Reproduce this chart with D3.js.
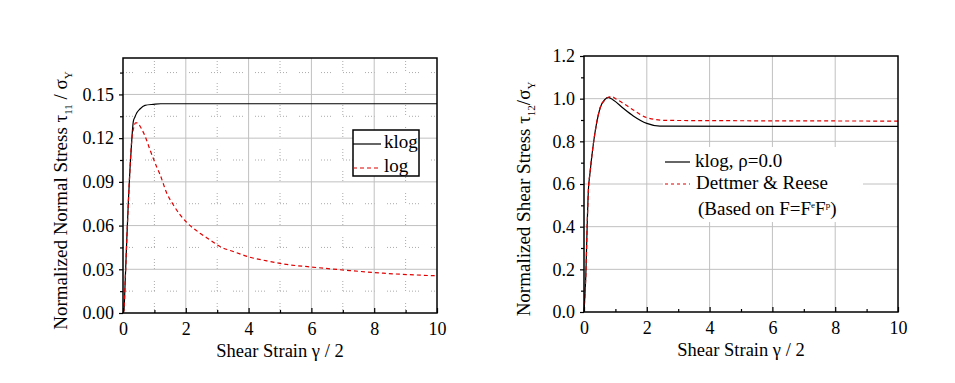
<!DOCTYPE html>
<html><head><meta charset="utf-8">
<script src="https://cdn.jsdelivr.net/npm/d3@7"></script>
<style>
body{margin:0;background:#fff;}
svg, svg text{font-family:"Liberation Serif","Times New Roman","DejaVu Serif",serif !important;}
</style></head>
<body><svg id="c" width="955" height="383"></svg>
<script>
// ---- data ----
const xTicks = [0, 2, 4, 6, 8, 10];
const xMinor = [1, 3, 5, 7, 9];
const leftYTicks = [0, 0.03, 0.06, 0.09, 0.12, 0.15];
const leftYMinor = [0.015, 0.045, 0.075, 0.105, 0.135, 0.165];
const rightYTicks = [0, 0.2, 0.4, 0.6, 0.8, 1.0, 1.2];
const rightYMinor = [0.1, 0.3, 0.5, 0.7, 0.9, 1.1];

const klogNx = [0, 0.03, 0.07, 0.12, 0.17, 0.22, 0.28, 0.33, 0.38, 0.44, 0.54, 0.70, 0.97, 1.2, 10];
const klogNy = [0, 0.002, 0.022, 0.05, 0.076, 0.098, 0.119, 0.1317, 0.1345, 0.1374, 0.140, 0.1425, 0.1432, 0.1436, 0.1436];
const logNx = [0, 0.03, 0.07, 0.12, 0.17, 0.22, 0.28, 0.34, 0.40, 0.46, 0.52, 0.60, 0.70, 0.86, 1.07, 1.18, 1.39, 1.6, 1.82, 2.03, 2.45, 2.77, 3.09, 3.51, 4.04, 4.58, 5.1, 6.17, 7.23, 8.29, 10];
const logNy = [0, 0.002, 0.022, 0.05, 0.076, 0.098, 0.119, 0.127, 0.1305, 0.1305, 0.129, 0.126, 0.1215, 0.112, 0.1004, 0.095, 0.0824, 0.0743, 0.0674, 0.0622, 0.0548, 0.0502, 0.0456, 0.0422, 0.0383, 0.0358, 0.0337, 0.0312, 0.0291, 0.0273, 0.0255];

const klogSx = [0, 0.03, 0.06, 0.1, 0.14, 0.19, 0.3, 0.4, 0.51, 0.67, 0.77, 0.93, 1.25, 1.57, 2.0, 2.42, 10];
const klogSy = [0, 0.08, 0.18, 0.40, 0.572, 0.65, 0.79, 0.884, 0.955, 0.997, 1.006, 0.994, 0.955, 0.919, 0.884, 0.871, 0.87];
const dettSx = [0, 0.03, 0.06, 0.1, 0.14, 0.19, 0.3, 0.4, 0.51, 0.67, 0.8, 0.88, 1.0, 1.25, 1.57, 2.0, 2.63, 10];
const dettSy = [0, 0.08, 0.18, 0.40, 0.572, 0.65, 0.79, 0.884, 0.955, 0.995, 1.008, 1.01, 1.0, 0.978, 0.947, 0.911, 0.898, 0.895];

const svg = d3.select("#c");
const FONT = '"Liberation Serif","Times New Roman",serif';
const FS = 18;

function panel(o) {
  const x = d3.scaleLinear().domain([0, 10]).range([o.x0, o.x1]);
  const y = d3.scaleLinear().domain([0, o.ymax]).range([o.y0, o.y1]);
  const g = svg.append("g");
  if (o.minorGrid) {
    g.selectAll(".mgx").data(xMinor).enter().append("line")
      .attr("x1", d => x(d)).attr("x2", d => x(d)).attr("y1", o.y0).attr("y2", o.y1)
      .attr("stroke", "#aaa").attr("stroke-dasharray", "1,2,1,2,1,2,1,12");
    g.selectAll(".mgy").data(o.yMinor).enter().append("line")
      .attr("y1", d => y(d)).attr("y2", d => y(d)).attr("x1", o.x0).attr("x2", o.x1)
      .attr("stroke", "#aaa").attr("stroke-dasharray", "1,2,1,2,1,2,1,12");
  }
  g.selectAll(".gx").data(xTicks.slice(1, -1)).enter().append("line")
    .attr("x1", d => x(d)).attr("x2", d => x(d)).attr("y1", o.y0).attr("y2", o.y1)
    .attr("stroke", "#c0c0c0");
  g.selectAll(".gy").data(o.yTicks.filter(d => d > 0 && d < o.ymax)).enter().append("line")
    .attr("y1", d => y(d)).attr("y2", d => y(d)).attr("x1", o.x0).attr("x2", o.x1)
    .attr("stroke", "#c0c0c0");
  if (o.legendBg) {
    g.append("rect").attr("x", o.legendBg[0]).attr("y", o.legendBg[1])
      .attr("width", o.legendBg[2]).attr("height", o.legendBg[3]).attr("fill", "#fff");
  }
  const line = d3.line().x(d => x(d[0])).y(d => y(d[1])).curve(d3.curveMonotoneX);
  o.series.forEach(s => {
    g.append("path").datum(s.xs.map((v, i) => [v, s.ys[i]]))
      .attr("d", line).attr("fill", "none").attr("stroke", s.color)
      .attr("stroke-width", 1.2).attr("stroke-dasharray", s.dash || null);
  });
  g.append("g").attr("transform", `translate(0,${o.y0})`)
    .call(d3.axisBottom(x).tickValues(xTicks).tickSize(-5).tickPadding(9).tickFormat(d3.format("d")));
  g.append("g").attr("transform", `translate(0,${o.y0})`)
    .call(d3.axisBottom(x).tickValues(xMinor).tickSize(-3).tickFormat(""));
  g.append("g").attr("transform", `translate(${o.x0},0)`)
    .call(d3.axisLeft(y).tickValues(o.yTicks).tickSize(4).tickPadding(5).tickFormat(d3.format(o.yfmt)));
  g.append("g").attr("transform", `translate(${o.x0},0)`)
    .call(d3.axisLeft(y).tickValues(o.yMinor).tickSize(3).tickFormat(""));
  g.selectAll(".domain").remove();
  g.selectAll("g").attr("font-family", FONT).attr("font-size", FS);
  g.selectAll(".tick line").attr("stroke", "#000").attr("stroke-width", 1.2);
  g.selectAll(".tick text").style("font-family", FONT).style("font-size", FS + "px").attr("fill", "#000");
  g.append("rect").attr("x", o.x0).attr("y", o.y1).attr("width", o.x1 - o.x0).attr("height", o.y0 - o.y1)
    .attr("fill", "none").attr("stroke", "#000").attr("stroke-width", 1.5);
  const xt = g.append("text").attr("x", (o.x0 + o.x1) / 2).attr("y", o.y0 + 44)
    .attr("text-anchor", "middle").style("font-family", FONT).style("font-size", "18.5px");
  xt.append("tspan").text("Shear Strain ");
  xt.append("tspan").text("γ / 2");
  const yt = g.append("text").attr("transform", `translate(${o.ytX},${(o.y0 + o.y1) / 2 + o.ytDy}) rotate(-90)`)
    .attr("text-anchor", "middle").style("font-family", FONT).style("font-size", "19px");
  yt.append("tspan").text(o.ytMain);
  yt.append("tspan").text(o.ytSub).style("font-size", "11px").attr("dy", 5);
  yt.append("tspan").text(o.ytMid).attr("dy", -5);
  yt.append("tspan").text("Y").style("font-size", "11px").attr("dy", 5);
  return { g, x, y };
}

const L = panel({
  x0: 123, x1: 437, y0: 313, y1: 58, ymax: 0.175,
  yTicks: leftYTicks, yMinor: leftYMinor, yfmt: ".2f", minorGrid: true,
  ytX: 67, ytDy: 15, ytMain: "Normalized Normal Stress τ", ytSub: "11", ytMid: " / σ",
  series: [
    { xs: klogNx, ys: klogNy, color: "#000" },
    { xs: logNx, ys: logNy, color: "#e00000", dash: "4,3" }
  ]
});
L.g.append("rect").attr("x", 353).attr("y", 130).attr("width", 66).attr("height", 46)
  .attr("fill", "#fff").attr("stroke", "#000").attr("stroke-width", 1.5);
L.g.append("line").attr("x1", 353).attr("x2", 381).attr("y1", 144).attr("y2", 144).attr("stroke", "#000").attr("stroke-width", 1.2);
L.g.append("line").attr("x1", 353).attr("x2", 381).attr("y1", 168).attr("y2", 168).attr("stroke", "#e00000").attr("stroke-width", 1.2).attr("stroke-dasharray", "4,3");
L.g.append("text").attr("x", 384).attr("y", 148).style("font-family", FONT).style("font-size", "19px").text("klog");
L.g.append("text").attr("x", 384).attr("y", 172).style("font-family", FONT).style("font-size", "19px").text("log");

const R = panel({
  x0: 584, x1: 898, y0: 312, y1: 56, ymax: 1.2,
  yTicks: rightYTicks, yMinor: rightYMinor, yfmt: ".1f", minorGrid: false,
  legendBg: [663, 147, 200, 75],
  ytX: 530, ytDy: 15, ytMain: "Normalized Shear Stress τ", ytSub: "12", ytMid: "/σ",
  series: [
    { xs: klogSx, ys: klogSy, color: "#000" },
    { xs: dettSx, ys: dettSy, color: "#e00000", dash: "4,3" }
  ]
});
R.g.append("line").attr("x1", 665).attr("x2", 690).attr("y1", 162).attr("y2", 162).attr("stroke", "#000").attr("stroke-width", 1.2);
R.g.append("line").attr("x1", 665).attr("x2", 690).attr("y1", 184).attr("y2", 184).attr("stroke", "#e00000").attr("stroke-width", 1.2).attr("stroke-dasharray", "3,3");
R.g.append("text").attr("x", 695).attr("y", 166.5).style("font-family", FONT).style("font-size", "19px").text("klog, ρ=0.0");
R.g.append("text").attr("x", 696).attr("y", 188.5).style("font-family", FONT).style("font-size", "19px").text("Dettmer & Reese");
const bt = R.g.append("text").attr("x", 698).attr("y", 215).style("font-family", FONT).style("font-size", "19px");
bt.append("tspan").text("(Based on F=F");
bt.append("tspan").text("e").style("font-size", "9px").attr("dy", -7);
bt.append("tspan").text("F").attr("dy", 7);
bt.append("tspan").text("p").style("font-size", "9px").attr("dy", -7);
bt.append("tspan").text(")").attr("dy", 7);
</script></body></html>
